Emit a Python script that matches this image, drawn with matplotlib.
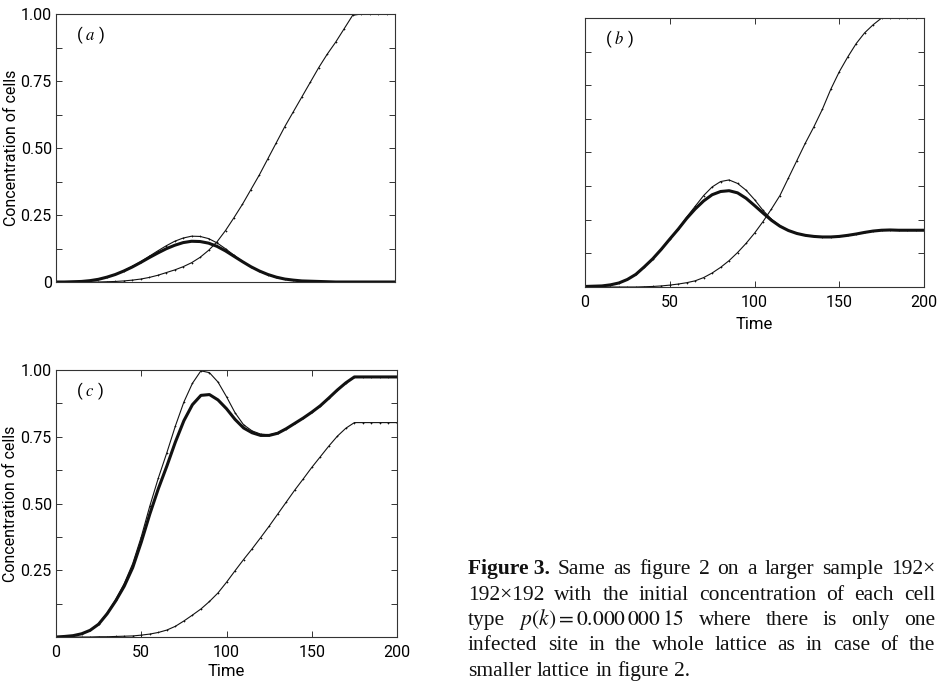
import numpy as np
import matplotlib
matplotlib.use('Agg')
import matplotlib.pyplot as plt
from matplotlib.ticker import MultipleLocator, FixedLocator

plt.rcParams['font.family'] = ['Roboto', 'DejaVu Sans']
plt.rcParams['mathtext.fontset'] = 'stix'

# time axis, one reading every 5 steps
t = np.arange(0, 201, 5)

# ---------------- panel (a) ----------------
a_rise = [0, 0, 0, 0, 0, 0, 0.001, 0.002, 0.004, 0.007, 0.011, 0.017, 0.025, 0.035,
          0.045, 0.057, 0.072, 0.092, 0.118, 0.15, 0.192, 0.24, 0.29, 0.345, 0.40,
          0.46, 0.52, 0.58, 0.635, 0.69, 0.745, 0.80, 0.85, 0.895, 0.945, 0.995,
          1.0, 1.0, 1.0, 1.0, 1.0]
a_thin = [0, 0, 0.001, 0.002, 0.005, 0.01, 0.018, 0.028, 0.042, 0.058, 0.076, 0.096,
          0.116, 0.135, 0.152, 0.164, 0.171, 0.17, 0.162, 0.146, 0.124, 0.1, 0.077,
          0.057, 0.04, 0.027, 0.017, 0.011, 0.007, 0.004, 0.003, 0.002, 0.001,
          0, 0, 0, 0, 0, 0, 0, 0]
a_thick = [0, 0, 0.001, 0.002, 0.005, 0.01, 0.018, 0.028, 0.041, 0.056, 0.073, 0.091,
           0.108, 0.124, 0.137, 0.147, 0.152, 0.151, 0.145, 0.133, 0.116, 0.096, 0.076,
           0.057, 0.041, 0.028, 0.018, 0.011, 0.007, 0.004, 0.003, 0.002, 0.001,
           0, 0, 0, 0, 0, 0, 0, 0]

# ---------------- panel (b) ----------------
b_rise = [0, 0, 0, 0, 0, 0, 0, 0.001, 0.002, 0.004, 0.007, 0.011, 0.016, 0.023,
          0.035, 0.052, 0.073, 0.098, 0.128, 0.162, 0.2, 0.243, 0.29, 0.34, 0.405,
          0.47, 0.535, 0.595, 0.66, 0.735, 0.8, 0.855, 0.905, 0.945, 0.975, 1.0,
          1.0, 1.0, 1.0, 1.0, 1.0]
b_thin = [0.002, 0.003, 0.004, 0.008, 0.015, 0.028, 0.047, 0.075, 0.105, 0.14, 0.178,
          0.216, 0.26, 0.30, 0.34, 0.372, 0.392, 0.398, 0.385, 0.36, 0.325, 0.285,
          0.252, 0.228, 0.211, 0.2, 0.192, 0.188, 0.186, 0.186, 0.188, 0.192, 0.197,
          0.203, 0.208, 0.211, 0.212, 0.211, 0.211, 0.211, 0.211]
b_thick = [0.002, 0.003, 0.004, 0.008, 0.015, 0.028, 0.047, 0.075, 0.105, 0.14, 0.178,
           0.215, 0.255, 0.29, 0.32, 0.343, 0.355, 0.358, 0.35, 0.33, 0.303, 0.275,
           0.248, 0.226, 0.21, 0.199, 0.192, 0.188, 0.186, 0.186, 0.188, 0.192, 0.197,
           0.203, 0.208, 0.211, 0.212, 0.211, 0.211, 0.211, 0.211]

# ---------------- panel (c) ----------------
c_top = [0, 0.002, 0.005, 0.012, 0.025, 0.05, 0.09, 0.14, 0.2, 0.275, 0.375, 0.49,
         0.595, 0.69, 0.79, 0.88, 0.95, 0.997, 0.99, 0.955, 0.9, 0.84, 0.795, 0.772,
         0.76, 0.757, 0.765, 0.78, 0.8, 0.82, 0.842, 0.866, 0.895, 0.925, 0.952,
         0.974, 0.974, 0.974, 0.974, 0.974, 0.974]
c_thick = [0, 0.002, 0.005, 0.012, 0.025, 0.048, 0.087, 0.135, 0.19, 0.26, 0.355, 0.46,
           0.555, 0.64, 0.73, 0.81, 0.87, 0.905, 0.908, 0.888, 0.855, 0.815, 0.783,
           0.765, 0.755, 0.755, 0.763, 0.78, 0.8, 0.82, 0.842, 0.866, 0.895, 0.925,
           0.952, 0.974, 0.974, 0.974, 0.974, 0.974, 0.974]
c_rise = [0, 0, 0, 0, 0, 0.001, 0.001, 0.002, 0.003, 0.004, 0.007, 0.011, 0.017, 0.026,
          0.04, 0.06, 0.082, 0.105, 0.133, 0.165, 0.205, 0.248, 0.29, 0.33, 0.372,
          0.415, 0.46, 0.505, 0.55, 0.592, 0.635, 0.675, 0.715, 0.752, 0.782, 0.803,
          0.803, 0.803, 0.803, 0.803, 0.803]

ytick_vals = [0, 0.25, 0.5, 0.75, 1.0]
ytick_text_a = ['0', '0.25', '0.50', '0.75', '1.00']
ytick_text_c = ['', '0.25', '0.50', '0.75', '1.00']
xtick_vals = [0, 50, 100, 150, 200]

ink = '#111111'

fig = plt.figure(figsize=(9.4, 6.81), dpi=100)
W, H = 940.0, 681.0


def make_axes(l, r, top, bot):
    return fig.add_axes([l / W, 1 - bot / H, (r - l) / W, (bot - top) / H])


axa = make_axes(56, 395, 14, 282)
axb = make_axes(585, 924, 18, 287)
axc = make_axes(56, 397, 370, 637)

panels = [(axa, a_rise, a_thin, a_thick, 'a'),
          (axb, b_rise, b_thin, b_thick, 'b'),
          (axc, c_rise, c_top, c_thick, 'c')]

for ax, rise, thin, thick, tag in panels:
    ax.plot(t, rise, color=ink, lw=0.8, marker='+', ms=2, mew=0.5)
    ax.plot(t, thin, color=ink, lw=0.8, marker='+', ms=2, mew=0.5)
    ax.plot(t, thick, color=ink, lw=2.2, solid_capstyle='round')
    ax.set_xlim(0, 200)
    ax.set_ylim(0, 1.0)
    for s in ax.spines.values():
        s.set_linewidth(0.8)
        s.set_color('#333333')
    ax.yaxis.set_major_locator(FixedLocator(ytick_vals))
    ax.yaxis.set_minor_locator(MultipleLocator(0.125))
    ax.xaxis.set_major_locator(FixedLocator(xtick_vals))
    ax.tick_params(which='both', direction='in', left=True, right=True, top=True,
                   bottom=True, width=0.7, color='#333333', labelsize=11.5, pad=3)
    ax.tick_params(axis='x', pad=6)
    ax.tick_params(which='major', length=4)
    ax.tick_params(which='minor', length=4)
    ax.tick_params(axis='x', which='minor', bottom=False, top=False)
    ax.text(0.06, 0.92, '( $%s$ )' % tag, transform=ax.transAxes,
            fontsize=12, va='center', ha='left')

axa.set_yticklabels(ytick_text_a)
axa.tick_params(axis='x', labelbottom=False, bottom=False, top=False)
axa.set_ylabel('Concentration of cells', fontsize=11.5)
axa.yaxis.set_label_coords(-0.11, 0.5)

axb.tick_params(axis='y', labelleft=False)
axb.set_xlabel('Time', fontsize=12, labelpad=5)

axc.set_yticklabels(ytick_text_c)
axc.set_ylabel('Concentration of cells', fontsize=11.5)
axc.yaxis.set_label_coords(-0.11, 0.5)
axc.set_xlabel('Time', fontsize=12, labelpad=3)

# ---------------- caption (justified) ----------------
cap_lines = [
    [('Figure 3.', 'bold'), 'Same', 'as', 'figure', '2', 'on', 'a', 'larger', 'sample', '192\u00d7'],
    ['192\u00d7192', 'with', 'the', 'initial', 'concentration', 'of', 'each', 'cell'],
    ['type', r'$p(k) = 0.000\,000\,15$', 'where', 'there', 'is', 'only', 'one'],
    ['infected', 'site', 'in', 'the', 'whole', 'lattice', 'as', 'in', 'case', 'of', 'the'],
    ['smaller', 'lattice', 'in', 'figure', '2.'],
]
cap_left, cap_right = 468, 935
cap_base0, cap_step = 574, 25.5
cap_font = dict(family=['Liberation Serif', 'DejaVu Serif'], fontsize=15.5, color='#111111')

renderer = fig.canvas.get_renderer()
for i, words in enumerate(cap_lines):
    items = []
    for w in words:
        if isinstance(w, tuple):
            items.append(fig.text(0, 0, w[0], fontweight=w[1], **cap_font))
        else:
            items.append(fig.text(0, 0, w, **cap_font))
    widths = [it.get_window_extent(renderer).width for it in items]
    if i < len(cap_lines) - 1:
        gap = (cap_right - cap_left - sum(widths)) / (len(items) - 1)
    else:
        gap = 5.5
    x = cap_left
    y = 1 - (cap_base0 + i * cap_step) / H
    for it, wd in zip(items, widths):
        it.set_position((x / W, y))
        it.set_va('baseline')
        x += wd + gap

fig.savefig('out.png', dpi=100)
